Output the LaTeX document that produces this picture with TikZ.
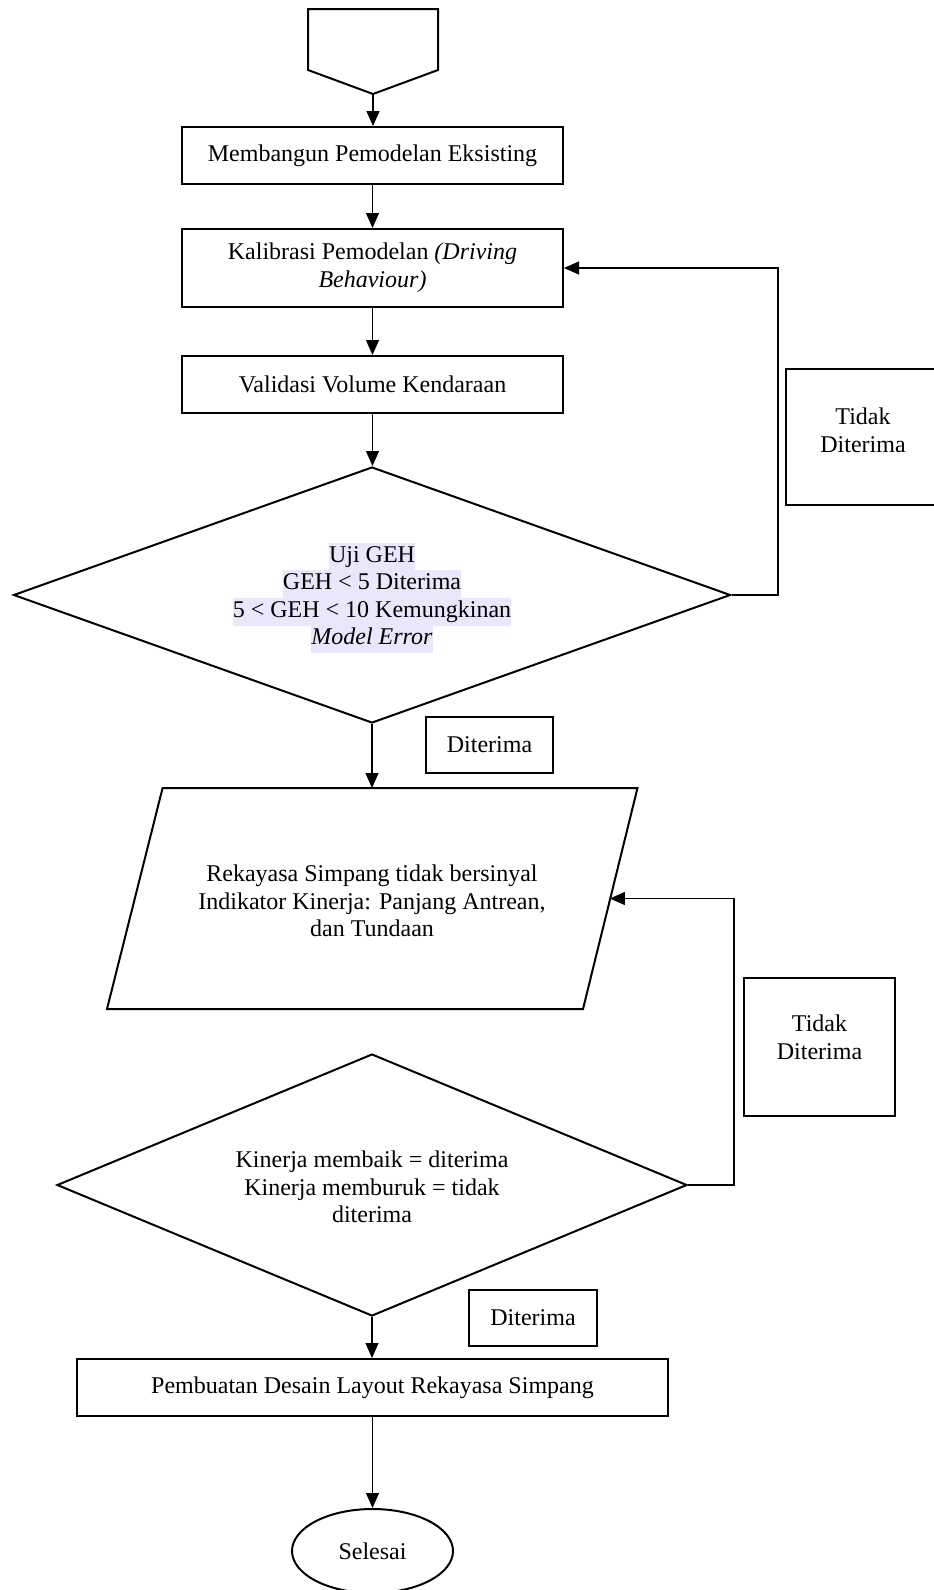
\documentclass[tikz,border=0pt]{standalone}
\usepackage{fontspec}
\setmainfont{Liberation Serif}
\usetikzlibrary{shapes.geometric,arrows.meta,calc}
\definecolor{hlcol}{RGB}{236,230,252}
\newcommand{\hlline}[1]{{\setlength{\fboxsep}{0pt}\colorbox{hlcol}{\strut #1}}}
\begin{document}
\begin{tikzpicture}[x=1pt,y=-1pt,
  every node/.style={font=\fontsize{24}{27.6}\selectfont},
  shp/.style={draw=black, line width=2pt},
  proc/.style={shp, rectangle, inner sep=0pt, align=center},
  txt/.style={align=center, inner sep=0pt},
  conn/.style={line width=1.1pt, -{Triangle[length=15pt,width=13pt]}},
]
\useasboundingbox (0,0) rectangle (934,1590);

% start off-page connector
\draw[shp, line join=miter] (308,9) -- (438,9) -- (438,70) -- (373,94) -- (308,70) -- cycle;
\coordinate (sbot) at (373,94);

\node[proc, minimum width=381pt, minimum height=57pt] (b1) at (372.5,155.5) {Membangun Pemodelan Eksisting};
\node[proc, minimum width=381pt, minimum height=78pt] (b2) at (372.5,268) {Kalibrasi Pemodelan \textit{(Driving}\\\textit{Behaviour)}};
\node[proc, minimum width=381pt, minimum height=57pt] (b3) at (372.5,384.5) {Validasi Volume Kendaraan};

\node[shp, diamond, minimum width=717pt, minimum height=256pt, inner sep=0pt, shape aspect=2.8] (d1) at (372,595) {};
\node[txt] (d1t) at (372,598) {\hlline{Uji GEH}\\\hlline{GEH < 5 Diterima}\\\hlline{5 < GEH < 10 Kemungkinan}\\\hlline{\textit{Model Error}}};

\node[proc, minimum width=154pt, minimum height=136pt] (t1) at (863,437) {};
\node[txt] (t1t) at (863,430) {Tidak\\Diterima};

\node[proc, minimum width=127pt, minimum height=56pt] (a1) at (489.5,745) {Diterima};

% parallelogram
\coordinate (p1) at (162.6,788);
\coordinate (p2) at (637.5,788);
\coordinate (p3) at (583,1009);
\coordinate (p4) at (107,1009);
\draw[shp, line join=miter] (p1) -- (p2) -- (p3) -- (p4) -- cycle;
\coordinate (ptop) at (372,788);
\coordinate (pright) at (609.9,898.5);
\node[txt] (pt) at (372,901) {Rekayasa Simpang tidak bersinyal\\Indikator Kinerja: Panjang Antrean,\\dan Tundaan};

\node[proc, minimum width=151pt, minimum height=138pt] (t2) at (819.5,1047) {};
\node[txt] (t2t) at (819.5,1037) {Tidak\\Diterima};

\node[shp, diamond, minimum width=630pt, minimum height=262pt, inner sep=0pt, shape aspect=2.4] (d2) at (372,1185) {};
\node[txt] (d2t) at (372,1187) {Kinerja membaik = diterima\\Kinerja memburuk = tidak\\diterima};

\node[proc, minimum width=128pt, minimum height=56pt] (a2) at (533,1318) {Diterima};

\node[proc, minimum width=591pt, minimum height=57pt] (b4) at (372.5,1387.5) {Pembuatan Desain Layout Rekayasa Simpang};

\node[shp, ellipse, minimum width=161pt, minimum height=84pt, inner sep=0pt] (e) at (372.5,1551) {Selesai};

% connectors
\draw[conn] (sbot) -- (sbot |- b1.north);
\draw[conn] (b1.south) -- (b2.north);
\draw[conn] (b2.south) -- (b3.north);
\draw[conn] (b3.south) -- (b3.south |- d1.north);
\coordinate (f1) at (778,595);
\draw[conn] (d1.east) -- (f1) |- (b2.east);
\draw[conn] (d1.south) -- (ptop);
\coordinate (f2) at (734,1185);
\draw[conn] (d2.east) -- (f2) |- (pright);
\draw[conn] (d2.south) -- (d2.south |- b4.north);
\draw[conn] (b4.south) -- (e.north);
\end{tikzpicture}
\end{document}
